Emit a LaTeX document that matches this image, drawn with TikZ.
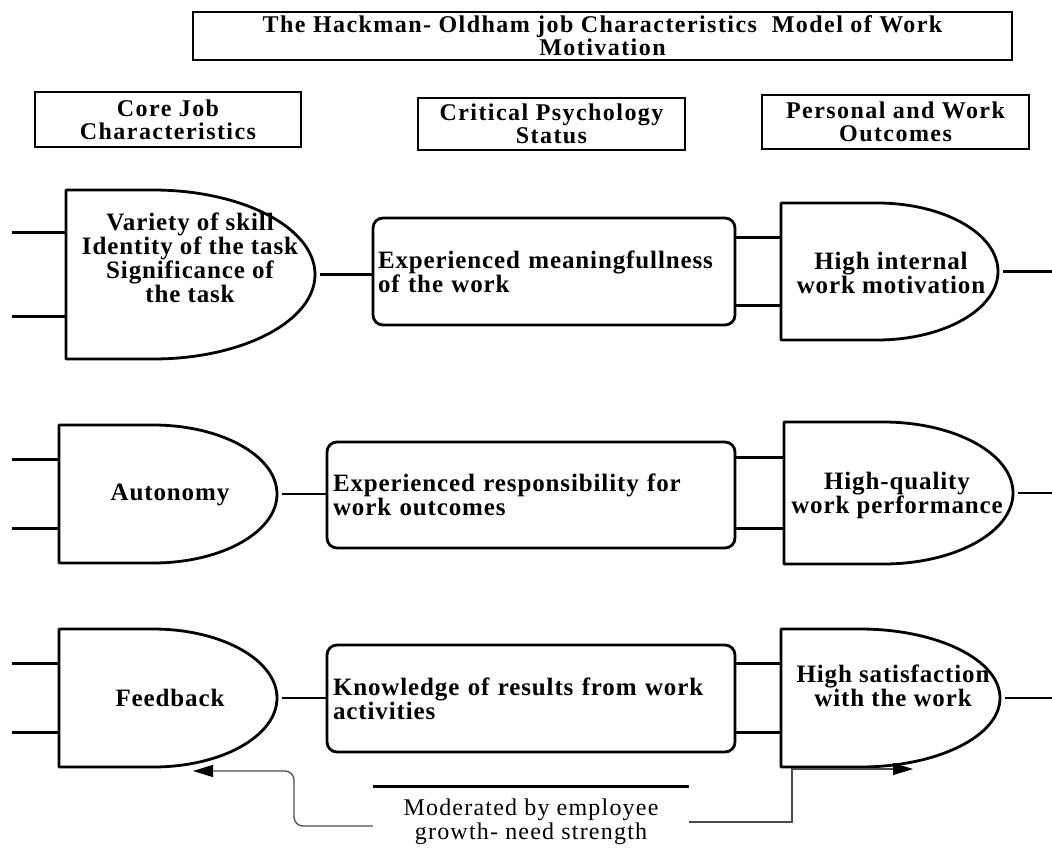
\documentclass[tikz,border=0pt]{standalone}
\usepackage{fontspec}
\setmainfont{Liberation Serif}
\newfontfamily\headfont[LetterSpace=6]{Liberation Serif}
\newfontfamily\bodyfont[LetterSpace=3.5]{Liberation Serif}
\newfontfamily\notefont[LetterSpace=5]{Liberation Serif}
\usetikzlibrary{arrows.meta,calc}

% D-shaped outline over a gate node: flat top/bottom, half-ellipse on the right
% #1 node, #2 flat length, #3 x radius, #4 y radius
\newcommand\gatepath[4]{%
  \draw[gateline] (#1.north west) -- ++(#2,0)
    arc[start angle=90, end angle=-90, x radius=#3, y radius=#4]
    -- (#1.south west) -- cycle;}

\begin{document}
\begin{tikzpicture}[x=1pt, y=1pt,
  headbox/.style={draw, line width=2.6pt, inner sep=0pt, align=center,
    font=\headfont\bfseries\fontsize{24}{23}\selectfont},
  gatebox/.style={rectangle, draw=none, inner sep=0pt, outer sep=0pt},
  gateline/.style={line width=2.8pt, line join=round},
  gatetext/.style={align=center, inner sep=0pt,
    font=\bodyfont\bfseries\fontsize{25}{24}\selectfont},
  procbox/.style={draw, line width=2.8pt, rounded corners=10pt, align=left,
    inner ysep=0pt, outer sep=0pt,
    font=\bodyfont\bfseries\fontsize{25}{24}\selectfont},
  link/.style={line width=2.7pt},
  notebox/.style={draw=none, align=center, inner sep=0pt,
    font=\notefont\fontsize{24}{24}\selectfont},
  thinarrow/.style={line width=1.3pt, draw=black!70,
    -{Triangle[length=20pt, width=12pt, color=black]}},
]
\fill[white] (0,0) rectangle (1052,-854);
\useasboundingbox (0,0) rectangle (1052,-854);

% column headings
\node[headbox, minimum width=819pt, minimum height=48pt] (title) at (602.5,-36)
  {The Hackman- Oldham job Characteristics\ \ Model of Work\\Motivation};
\node[headbox, minimum width=266pt, minimum height=55pt] (hcore) at (168,-119.5)
  {Core Job\\Characteristics};
\node[headbox, minimum width=267pt, minimum height=52pt] (hcrit) at (551.5,-124)
  {Critical Psychology\\Status};
\node[headbox, minimum width=267pt, minimum height=54pt] (hout) at (895.5,-122)
  {Personal and Work\\Outcomes};

% core job characteristics
\node[gatebox, minimum width=249pt, minimum height=169pt] (g1) at (190.5,-274.5) {};
\node[gatebox, minimum width=218pt, minimum height=138pt] (g2) at (168,-494) {};
\node[gatebox, minimum width=218pt, minimum height=138pt] (g3) at (168,-698) {};
\gatepath{g1}{87}{162}{84.5}
\gatepath{g2}{94}{124}{69}
\gatepath{g3}{94}{124}{69}
\node[gatetext] (g1t) at (190,-258)
  {Variety of skill\\Identity of the task\\Significance of\\the task};
\node[gatetext] (g2t) at (170,-495) {Autonomy};
\node[gatetext] (g3t) at (170,-698) {Feedback};

% critical psychological states
\node[procbox, minimum width=362pt, minimum height=107pt, inner xsep=5pt,
  text width=352pt] (r1) at (554,-271.5)
  {Experienced meaningfullness\\of the work};
\node[procbox, minimum width=408pt, minimum height=106pt, inner xsep=6pt,
  text width=396pt] (r2) at (531,-495)
  {Experienced responsibility for\\work outcomes};
\node[procbox, minimum width=408pt, minimum height=107pt, inner xsep=6pt,
  text width=396pt] (r3) at (531,-698.5)
  {Knowledge of results from work\\activities};

% personal and work outcomes
\node[gatebox, minimum width=217pt, minimum height=137pt] (o1) at (889.5,-271.5) {};
\node[gatebox, minimum width=229pt, minimum height=142pt] (o2) at (898.5,-493) {};
\node[gatebox, minimum width=219pt, minimum height=138pt] (o3) at (890.5,-698) {};
\gatepath{o1}{96}{121}{68.5}
\gatepath{o2}{99}{130}{71}
\gatepath{o3}{79}{140}{69}
\node[gatetext] (o1t) at (891,-273) {High internal\\work motivation};
\node[gatetext] (o2t) at (897,-495) {High-quality\\work performance};
\node[gatetext] (o3t) at (893,-686) {High satisfaction\\with the work};

% page edges for the open-ended stubs
\coordinate (edgeL) at (12,0);
\coordinate (edgeR) at (1052,0);

% input stubs on the left gates and links between columns
\foreach \g/\r/\o in {g1/r1/o1, g2/r2/o2, g3/r3/o3} {
  \coordinate (\g a) at ($(\g.north west)!.25!(\g.south west)$);
  \coordinate (\g b) at ($(\g.north west)!.75!(\g.south west)$);
  \coordinate (\o a) at ($(\o.north west)!.25!(\o.south west)$);
  \coordinate (\o b) at ($(\o.north west)!.75!(\o.south west)$);
  \draw[link] (\g a) -- (\g a -| edgeL);
  \draw[link] (\g b) -- (\g b -| edgeL);
  \draw[link] ([xshift=5pt]\g.east) -- (\g.east -| \r.west);
  \draw[link] (\r.east |- \o a) -- (\o a);
  \draw[link] (\r.east |- \o b) -- (\o b);
  \draw[link] ([xshift=5pt]\o.east) -- (\o.east -| edgeR);
}

% moderator
\node[notebox, minimum width=316pt, minimum height=70pt] (mod) at (531,-822)
  {Moderated by employee\\growth- need strength};
\draw[link] (mod.north west) -- (mod.north east);
\coordinate (fbL) at ([xshift=25pt, yshift=-4pt]g3.south);
\coordinate (fbR) at ([xshift=22.5pt, yshift=-2pt]o3.south);
\draw[thinarrow, rounded corners=9pt] ([yshift=-4pt]mod.west)
  -| ([xshift=101pt]fbL) -- (fbL);
\draw[thinarrow] (mod.east) -| ([xshift=-121pt]fbR) -- (fbR);
\end{tikzpicture}
\end{document}
